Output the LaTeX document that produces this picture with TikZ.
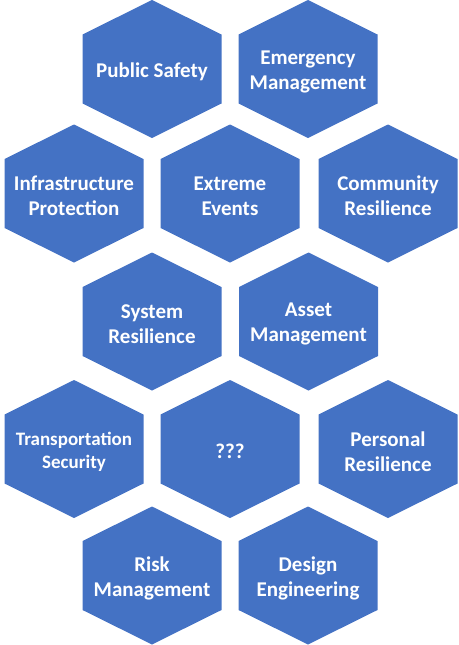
\documentclass[tikz,border=0pt]{standalone}
\usepackage{fontspec}
\setmainfont{Carlito}
\definecolor{hexblue}{HTML}{4472C4}
\begin{document}
\begin{tikzpicture}[x=1pt,y=-1pt,
  hexshape/.style={fill=hexblue},
  hexlabel/.style={text=white,font=\fontsize{21}{25}\selectfont\bfseries,align=center,inner sep=0pt,yshift=-2.5pt},
  smalllabel/.style={hexlabel,font=\fontsize{19}{22.7}\selectfont\bfseries}]
\useasboundingbox (0,0) rectangle (458,645);
\foreach \cx/\cy in {152/69,308/69,74/193.5,230/193.5,388/193.5,152/321.5,308.5/321.5,74/449,230/449,388/449,152/575.5,308/575.5}{
  \fill[hexshape,shift={(\cx,\cy)}] (0,-69) -- (69.5,-34.5) -- (69.5,34.5) -- (0,69) -- (-69.5,34.5) -- (-69.5,-34.5) -- cycle;
}
\node[hexlabel] (ps) at (152,69) {Public Safety};
\node[hexlabel] (em) at (308,69) {Emergency\\Management};
\node[hexlabel] (ip) at (74,193.5) {Infrastructure\\Protection};
\node[hexlabel] (ee) at (230,193.5) {Extreme\\Events};
\node[hexlabel] (cr) at (388,193.5) {Community\\Resilience};
\node[hexlabel] (sr) at (152,321.5) {System\\Resilience};
\node[hexlabel] (am) at (308.5,321.5) {Asset\\Management};
\node[smalllabel] (ts) at (74,449) {Transportation\\Security};
\node[hexlabel] (qq) at (230,449) {???};
\node[hexlabel] (pr) at (388,449) {Personal\\Resilience};
\node[hexlabel] (rm) at (152,575.5) {Risk\\Management};
\node[hexlabel] (de) at (308,575.5) {Design\\Engineering};
\end{tikzpicture}
\end{document}
